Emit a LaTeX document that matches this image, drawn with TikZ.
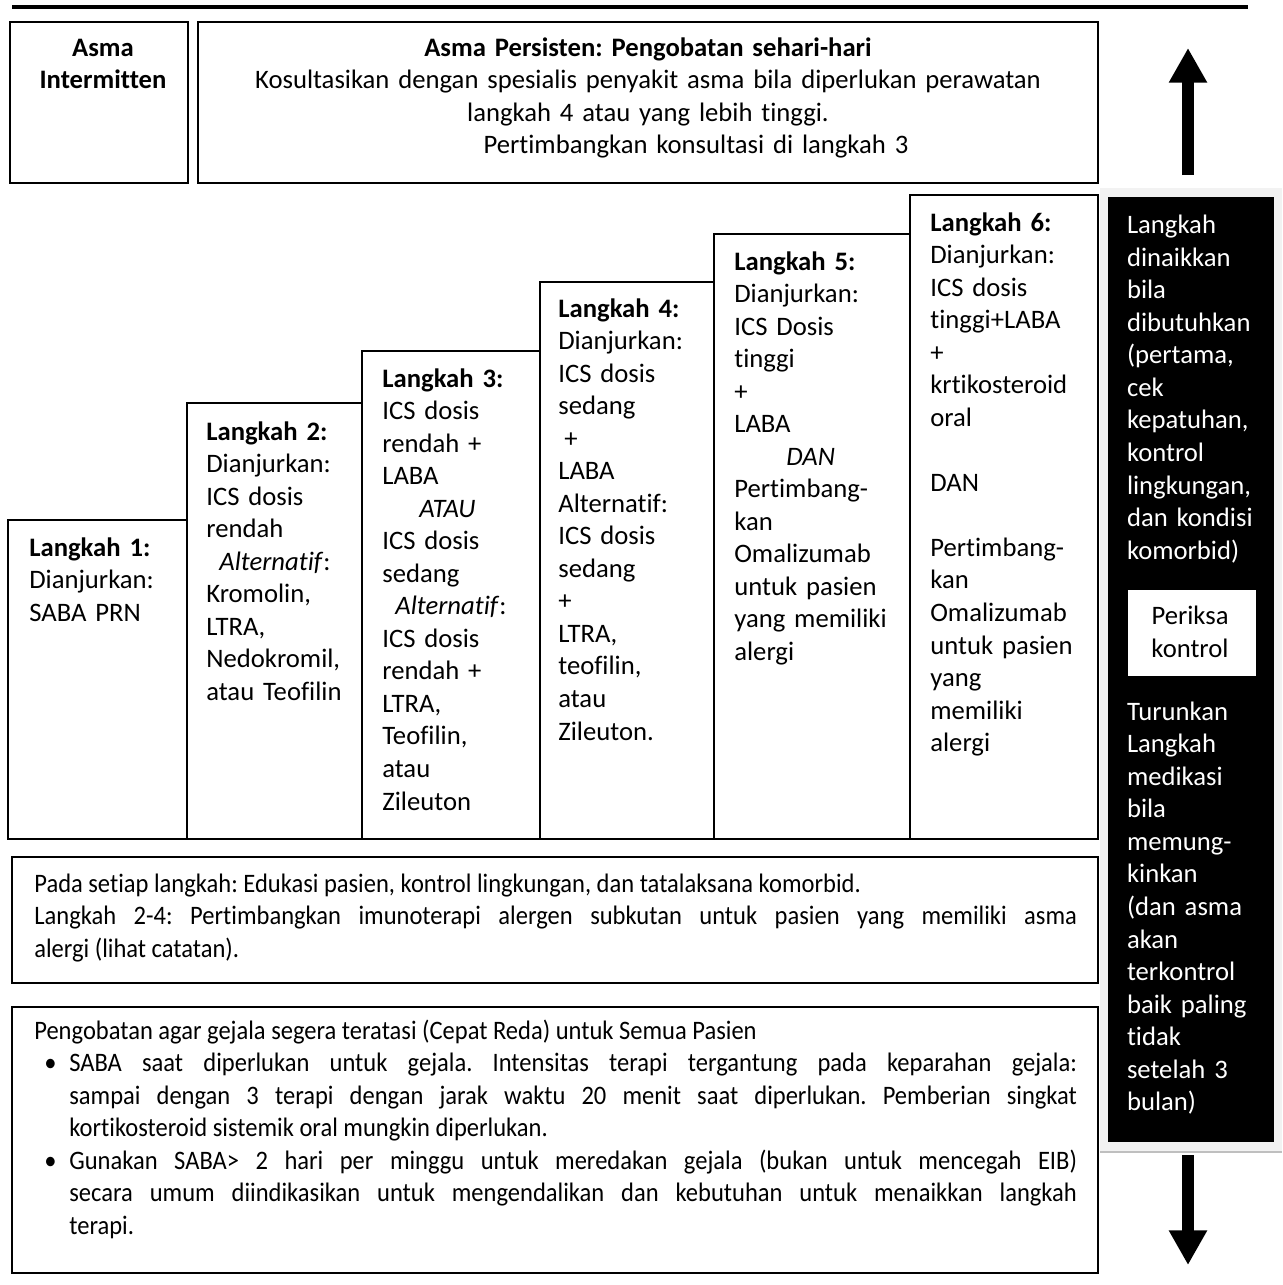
\documentclass[tikz,border=0pt]{standalone}
\usepackage{fontspec}
\setmainfont{Carlito}[Ligatures=CommonOff]
\newfontfamily\narrowfont{Carlito}[FakeStretch=0.92, Ligatures=CommonOff]
\usetikzlibrary{positioning, arrows.meta, calc, fit}
\frenchspacing

\newlength{\pxu}
\setlength{\pxu}{0.75pt}

\tikzset{
  box/.style={draw, line width=1.4pt, inner sep=0pt},
  lines/.style={inner sep=0pt, text width=150pt, align=left, anchor=base west},
  heading/.style={inner sep=0pt, align=center, anchor=base},
  notes/.style={inner sep=0pt, anchor=base west, text width=782pt, align=justify,
    font=\narrowfont\fontsize{20}{24.4}\selectfont},
  bigarrow/.style={line width=8.5pt, -{Triangle[width=27pt, length=26pt]}},
}

\begin{document}
\begin{tikzpicture}[x=0.75pt, y=-0.75pt, font=\fontsize{20}{24.4}\selectfont]
\useasboundingbox (0,0) rectangle (1282,1285);

% rule on top
\coordinate (ruleL) at (12,7);
\coordinate (ruleR) at (1248,7);
\draw[line width=3pt] (ruleL) -- (ruleR);

% header boxes
\node[box, fit={(10,22) (188,183)}] (intm) {};
\node[box, fit={(198,22) (1098,183)}] (pers) {};
\node[heading, text width=170*0.75pt] at ($(intm.north)+(4,35)$) {\textbf{Asma}\\ \textbf{Intermitten}};
\node[heading, text width=880*0.75pt] at ($(pers.north)+(0,35)$) {\textbf{Asma Persisten: Pengobatan sehari-hari}\\
  Kosultasikan dengan spesialis penyakit asma bila diperlukan perawatan\\
  langkah 4 atau yang lebih tinggi.\\
  \hspace*{96\pxu}Pertimbangkan konsultasi di langkah 3};

% the six steps
\foreach \i/\xa/\xb/\yt in {1/8/187/520, 2/187/362/403, 3/362/540/351,
                            4/540/714/282, 5/714/910/234, 6/910/1098/195}
  \node[box, fit={(\xa,\yt) (\xb,839)}] (s\i) {};

\node[lines] at ($(s1.north west)+(22,37)$) {\textbf{Langkah 1:}\\ Dianjurkan:\\ SABA PRN};
\node[lines] at ($(s2.north west)+(20,38)$) {\textbf{Langkah 2:}\\ Dianjurkan:\\ ICS dosis\\ rendah\\
  \hspace*{13\pxu}\textit{Alternatif}:\\ Kromolin,\\ LTRA,\\ Nedokromil,\\ atau Teofilin};
\node[lines] at ($(s3.north west)+(21,37)$) {\textbf{Langkah 3:}\\ ICS dosis\\ rendah +\\ LABA\\
  \hspace*{37\pxu}\textit{ATAU}\\ ICS dosis\\ sedang\\ \hspace*{13\pxu}\textit{Alternatif}:\\
  ICS dosis\\ rendah +\\ LTRA,\\ Teofilin,\\ atau\\ Zileuton};
\node[lines] at ($(s4.north west)+(19,36)$) {\textbf{Langkah 4:}\\ Dianjurkan:\\ ICS dosis\\ sedang\\
  \hspace*{6\pxu}+\\ LABA\\ Alternatif:\\ ICS dosis\\ sedang\\ +\\ LTRA,\\ teofilin,\\ atau\\ Zileuton.};
\node[lines] at ($(s5.north west)+(21,37)$) {\textbf{Langkah 5:}\\ Dianjurkan:\\ ICS Dosis\\ tinggi\\ +\\ LABA\\
  \hspace*{52\pxu}\textit{DAN}\\ Pertimbang-\\ kan\\ Omalizumab\\ untuk pasien\\ yang memiliki\\ alergi};
\node[lines] at ($(s6.north west)+(21,37)$) {\textbf{Langkah 6:}\\ Dianjurkan:\\ ICS dosis\\ tinggi+LABA\\ +\\
  krtikosteroid\\ oral\\[24.4pt] DAN\\[24.4pt] Pertimbang-\\ kan\\ Omalizumab\\ untuk pasien\\ yang\\ memiliki\\ alergi};

% black panel on the right
\fill[black!5] (1100,188) rectangle (1282,1153);
\draw[black!25, line width=1.5pt] (1100,1152) -- (1282,1152);
\node[fill=black, inner sep=0pt, fit={(1108,197) (1274,1142)}] (panel) {};
\node[fill=white, inner sep=0pt, fit={(1128,590) (1256,676)}] (check) {};
\node[lines, text=white] at ($(panel.north west)+(19,37)$) {Langkah\\ dinaikkan\\ bila\\ dibutuhkan\\
  (pertama,\\ cek\\ kepatuhan,\\ kontrol\\ lingkungan,\\ dan kondisi\\ komorbid)};
\node[align=center, inner sep=0pt] at ($(check.center)+(-2,-1)$) {Periksa\\ kontrol};
\node[lines, text=white] at ($(check.south west)+(-1,44)$) {Turunkan\\ Langkah\\ medikasi\\ bila\\
  memung-\\ kinkan\\ (dan asma\\ akan\\ terkontrol\\ baik paling\\ tidak\\ setelah 3\\ bulan)};

% step up / step down
\coordinate (upfoot) at (1188,175);
\coordinate (uptip) at (1188,48);
\coordinate (downfoot) at (1188,1155);
\coordinate (downtip) at (1188,1265);
\draw[bigarrow] (upfoot) -- (uptip);
\draw[bigarrow] (downfoot) -- (downtip);

% notes below the steps
\node[box, fit={(12,857) (1098,983)}] (every) {};
\node[box, fit={(12,1007) (1098,1273)}] (relief) {};
\node[notes] at ($(every.north west)+(23,36)$) {\parindent=0pt
  Pada setiap langkah: Edukasi pasien, kontrol lingkungan, dan tatalaksana komorbid.\par
  Langkah 2-4: Pertimbangkan imunoterapi alergen subkutan untuk pasien yang memiliki asma\linebreak
  alergi (lihat catatan).};
\node[notes] at ($(relief.north west)+(23,33)$) {\parindent=0pt
  Pengobatan agar gejala segera teratasi (Cepat Reda) untuk Semua Pasien\par
  \leftskip=26.25pt
  \noindent\llap{\makebox[18.75pt][l]{\textbullet}}SABA saat diperlukan untuk gejala. Intensitas terapi tergantung pada keparahan gejala:\linebreak
  sampai dengan 3 terapi dengan jarak waktu 20 menit saat diperlukan. Pemberian singkat\linebreak
  kortikosteroid sistemik oral mungkin diperlukan.\par
  \noindent\llap{\makebox[18.75pt][l]{\textbullet}}Gunakan SABA> 2 hari per minggu untuk meredakan gejala (bukan untuk mencegah EIB)\linebreak
  secara umum diindikasikan untuk mengendalikan dan kebutuhan untuk menaikkan langkah\linebreak
  terapi.\par};
\end{tikzpicture}
\end{document}
